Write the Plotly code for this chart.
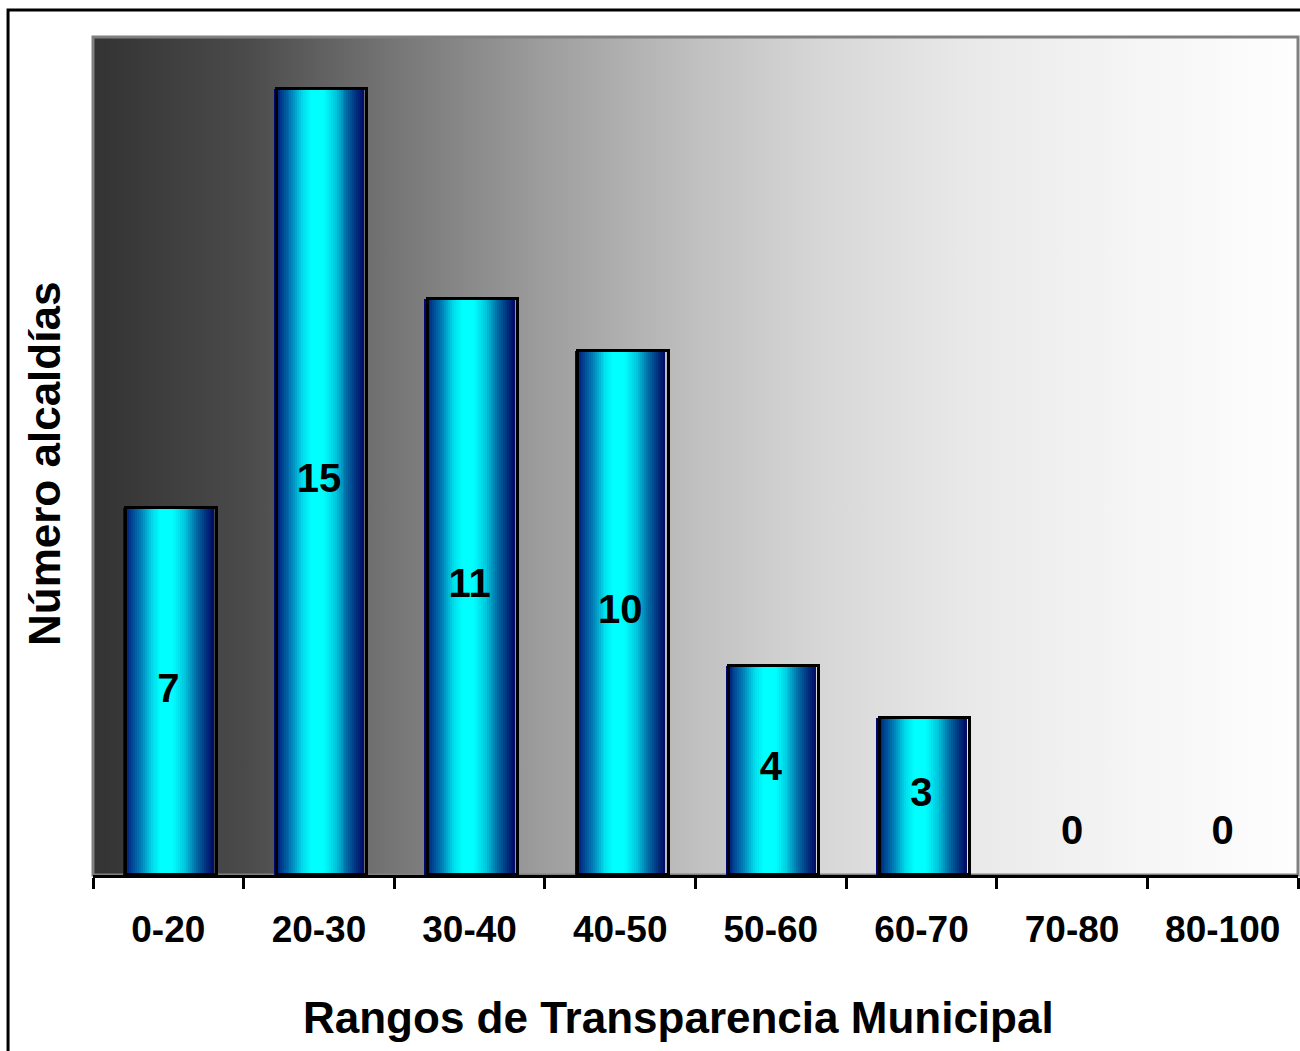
import base64
import plotly.graph_objects as go

# ---------------- data ----------------
categories = ["0-20", "20-30", "30-40", "40-50", "50-60", "60-70", "70-80", "80-100"]
values = [7, 15, 11, 10, 4, 3, 0, 0]
x_title = "Rangos de Transparencia Municipal"
y_title = "Número alcaldías"

# ---------------- style ----------------
FONT = "Liberation Sans, Arial, sans-serif"
BAR_W = 0.6
N_SLICES = 46
# horizontal cylinder-like gradient of each bar (position, rgb)
bar_stops = [
    (0.00, (0, 0, 110)),
    (0.08, (0, 60, 140)),
    (0.20, (0, 130, 185)),
    (0.32, (0, 220, 235)),
    (0.42, (0, 255, 255)),
    (0.55, (0, 255, 255)),
    (0.68, (0, 200, 222)),
    (0.82, (0, 100, 160)),
    (0.93, (0, 40, 120)),
    (1.00, (0, 10, 100)),
]
bg_stops = [
    (0.00, 51), (0.126, 74), (0.251, 118), (0.376, 158), (0.50, 192),
    (0.60, 214), (0.72, 232), (0.85, 244), (1.00, 254),
]


def interp(t):
    for (t0, c0), (t1, c1) in zip(bar_stops[:-1], bar_stops[1:]):
        if t0 <= t <= t1:
            f = (t - t0) / (t1 - t0) if t1 > t0 else 0
            return "rgb(%d,%d,%d)" % tuple(round(a + (b - a) * f) for a, b in zip(c0, c1))
    return "rgb(%d,%d,%d)" % bar_stops[-1][1]


fig = go.Figure()

# gradient bars: each slice covers from its left edge to the bar's right edge
step = BAR_W / N_SLICES
for i in range(N_SLICES):
    t = (i + 0.5) / N_SLICES
    fig.add_trace(go.Bar(
        x=categories, y=values,
        offset=-BAR_W / 2 + i * step, width=BAR_W - i * step,
        marker=dict(color=interp(t), line=dict(width=0)),
        showlegend=False, hoverinfo="skip",
    ))

# black outline (slightly offset, like the original's shadowed frame); none for empty bars
outline_y = [v if v > 0 else None for v in values]
fig.add_trace(go.Bar(
    x=categories, y=outline_y,
    offset=-BAR_W / 2 + 0.022, width=BAR_W,
    marker=dict(color="rgba(0,0,0,0)", line=dict(color="black", width=3)),
    showlegend=False, hovertemplate="%{x}: %{y}<extra></extra>",
))

# value labels (centre of bar; zeros sit just above the axis)
label_y = [v / 2 if v > 0 else 0.78 for v in values]
fig.add_trace(go.Scatter(
    x=categories, y=label_y, mode="text",
    text=[str(v) for v in values],
    textfont=dict(family=FONT, size=40, color="black", weight="bold"),
    showlegend=False, hoverinfo="skip",
))

# background gradient of the plotting area
stops_svg = "".join(
    '<stop offset="%g" stop-color="rgb(%d,%d,%d)"/>' % (o, g, g, g) for o, g in bg_stops
)
svg = ('<svg xmlns="http://www.w3.org/2000/svg" width="200" height="20" '
       'preserveAspectRatio="none" viewBox="0 0 200 20">'
       '<defs><linearGradient id="g" x1="0" x2="1" y1="0" y2="0">' + stops_svg +
       '</linearGradient></defs><rect width="200" height="20" fill="url(#g)"/></svg>')
src = "data:image/svg+xml;base64," + base64.b64encode(svg.encode()).decode()

fig.update_layout(
    width=1300, height=1051,
    margin=dict(l=93, r=2, t=37, b=176),
    paper_bgcolor="white",
    plot_bgcolor="rgba(0,0,0,0)",
    barmode="overlay",
    bargap=0,
    font=dict(family=FONT, color="black"),
    images=[dict(source=src, xref="paper", yref="paper", x=0, y=1,
                 sizex=1, sizey=1, sizing="stretch", xanchor="left",
                 yanchor="top", layer="below")],
    shapes=[
        # plot-area frame
        dict(type="rect", xref="paper", yref="paper", x0=0, y0=0, x1=1, y1=1,
             line=dict(color="#808080", width=3), layer="below"),
        # outer chart frame
        dict(type="rect", xref="paper", yref="paper", x0=-0.0705, y0=-0.4,
             x1=1.2, y1=1.0322, line=dict(color="black", width=3)),
    ],
    annotations=[
        dict(text=x_title, xref="paper", yref="paper", x=0.4855, y=-0.1695,
             xanchor="center", yanchor="middle", showarrow=False,
             font=dict(family=FONT, size=44, color="black", weight="bold")),
        dict(text=y_title, xref="paper", yref="paper", x=-0.0398, y=0.4905,
             textangle=-90, xanchor="center", yanchor="middle", showarrow=False,
             font=dict(family=FONT, size=44, color="black", weight="bold")),
    ],
)

fig.update_xaxes(
    type="category", categoryorder="array", categoryarray=categories,
    showline=True, linecolor="black", linewidth=3,
    ticks="outside", tickson="boundaries", ticklen=11, tickwidth=3, tickcolor="black",
    tickfont=dict(family=FONT, size=37, color="black", weight="bold"),
    ticklabelstandoff=20,
    showgrid=False, zeroline=False,
)
fig.update_yaxes(
    range=[0, 16], showticklabels=False, ticks="", showgrid=False,
    zeroline=False, showline=False,
)

fig.write_html(
    "out.html",
    config={"displayModeBar": False},
    post_script="document.body.style.margin='0';document.body.style.overflow='hidden';",
)
